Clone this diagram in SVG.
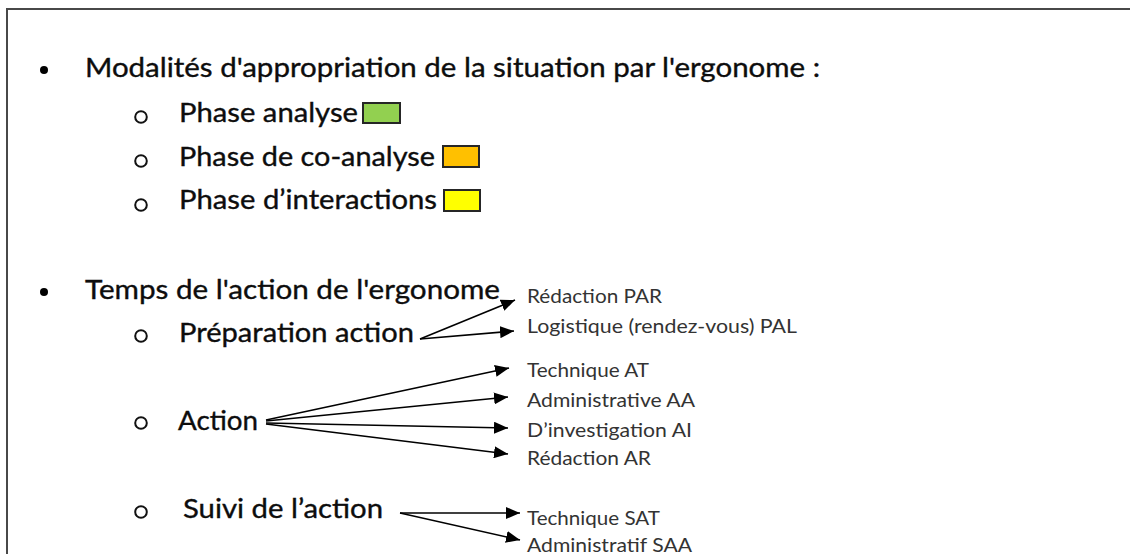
<svg xmlns="http://www.w3.org/2000/svg" width="1130" height="554" viewBox="0 0 1130 554">
<defs>
<style>
.main{font-family:Lato,"Open Sans",sans-serif;font-size:26.5px;fill:#0d0d0d;stroke:#0d0d0d;stroke-width:0.35}
.sub{font-family:Lato,"Open Sans",sans-serif;font-size:20px;fill:#333}
.ring{fill:none;stroke:#111;stroke-width:2}
.dot{fill:#000}
.sw{stroke:#262626;stroke-width:2}
.arr{stroke:#000;stroke-width:1.6;fill:none;marker-end:url(#ah)}
</style>
<marker id="ah" markerUnits="userSpaceOnUse" markerWidth="15" markerHeight="12" refX="14" refY="6" orient="auto">
<path d="M0,0 L14,6 L0,12 Z" fill="#000"/>
</marker>
</defs>
<rect width="1130" height="554" fill="#fff"/>
<path d="M7,560 V9 H1140" fill="none" stroke="#484848" stroke-width="2"/>

<g id="section1">
<circle class="dot" cx="44" cy="70" r="4"/>
<text class="main" x="85" y="77" textLength="735" lengthAdjust="spacingAndGlyphs">Modalités d'appropriation de la situation par l'ergonome :</text>
</g>
<g id="phase-analyse">
<circle class="ring" cx="141" cy="117" r="5.8"/>
<text class="main" x="179" y="122" textLength="179" lengthAdjust="spacingAndGlyphs">Phase analyse</text>
<rect class="sw" x="363" y="103" width="37" height="20" fill="#92D050"/>
</g>
<g id="phase-coanalyse">
<circle class="ring" cx="141" cy="161" r="5.8"/>
<text class="main" x="179" y="166" textLength="256" lengthAdjust="spacingAndGlyphs">Phase de co-analyse</text>
<rect class="sw" x="443" y="146" width="36" height="21" fill="#FFC000"/>
</g>
<g id="phase-interactions">
<circle class="ring" cx="141" cy="205" r="5.8"/>
<text class="main" x="179" y="209" textLength="258" lengthAdjust="spacingAndGlyphs">Phase d’interactions</text>
<rect class="sw" x="444" y="190" width="36" height="21" fill="#FFFF00"/>
</g>

<g id="section2">
<circle class="dot" cx="44" cy="292" r="4"/>
<text class="main" x="85" y="299" textLength="415" lengthAdjust="spacingAndGlyphs">Temps de l'action de l'ergonome</text>
</g>
<g id="preparation">
<circle class="ring" cx="141" cy="336" r="5.8"/>
<text class="main" x="179" y="342" textLength="235" lengthAdjust="spacingAndGlyphs">Préparation action</text>
</g>
<g id="action">
<circle class="ring" cx="141" cy="423" r="5.8"/>
<text class="main" x="178" y="430" textLength="80" lengthAdjust="spacingAndGlyphs">Action</text>
</g>
<g id="suivi">
<circle class="ring" cx="141" cy="512" r="5.8"/>
<text class="main" x="183" y="518" textLength="200" lengthAdjust="spacingAndGlyphs">Suivi de l’action</text>
</g>

<g id="labels">
<text class="sub" x="527" y="303" textLength="135" lengthAdjust="spacingAndGlyphs">Rédaction PAR</text>
<text class="sub" x="527" y="333" textLength="270" lengthAdjust="spacingAndGlyphs">Logistique (rendez-vous) PAL</text>
<text class="sub" x="527" y="377" textLength="122" lengthAdjust="spacingAndGlyphs">Technique AT</text>
<text class="sub" x="527" y="407" textLength="168" lengthAdjust="spacingAndGlyphs">Administrative AA</text>
<text class="sub" x="527" y="437" textLength="165" lengthAdjust="spacingAndGlyphs">D’investigation AI</text>
<text class="sub" x="527" y="465" textLength="124" lengthAdjust="spacingAndGlyphs">Rédaction AR</text>
<text class="sub" x="527" y="525" textLength="133" lengthAdjust="spacingAndGlyphs">Technique SAT</text>
<text class="sub" x="527" y="552" textLength="165" lengthAdjust="spacingAndGlyphs">Administratif SAA</text>
</g>

<g id="connectors">
<line class="arr" x1="420" y1="339" x2="515" y2="300"/>
<line class="arr" x1="420" y1="339" x2="514" y2="331"/>
<line class="arr" x1="266" y1="420" x2="509" y2="368"/>
<line class="arr" x1="266" y1="421" x2="508" y2="397"/>
<line class="arr" x1="266" y1="423" x2="508" y2="428"/>
<line class="arr" x1="266" y1="424" x2="508" y2="454"/>
<line class="arr" x1="400" y1="513" x2="520" y2="513"/>
<line class="arr" x1="400" y1="513" x2="520" y2="540"/>
</g>
</svg>
